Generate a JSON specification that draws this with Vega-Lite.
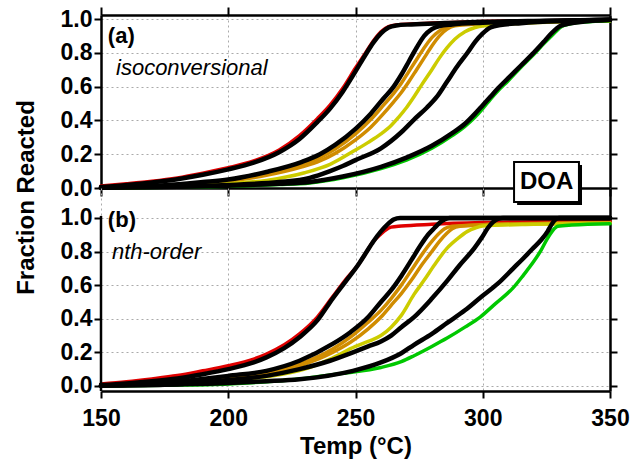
{
  "$schema": "https://vega.github.io/schema/vega-lite/v6.json",
  "padding": {"left": 13, "top": 6, "right": 5, "bottom": 5},
  "background": "white",
  "config": {
    "view": {"stroke": null},
    "font": "Liberation Sans",
    "axis": {
      "zindex": 0,
      "domainColor": "black", "domainWidth": 2.5,
      "tickColor": "black", "tickWidth": 2,
      "labelFont": "Liberation Sans", "labelFontWeight": "bold", "labelFontSize": 23, "labelColor": "black",
      "titleFont": "Liberation Sans", "titleFontWeight": "bold", "titleFontSize": 24, "titleColor": "black",
      "gridColor": "#aaaaaa", "gridDash": [2, 3], "gridWidth": 1,
      "labelFlush": false, "labelOverlap": false, "labelBound": false
    }
  },
  "datasets": {
    "curves": [
      {"p":"a","s":"red","T":150,"f":0.012},{"p":"a","s":"red","T":160,"f":0.025},{"p":"a","s":"red","T":170,"f":0.04},{"p":"a","s":"red","T":180,"f":0.06},{"p":"a","s":"red","T":190,"f":0.088},{"p":"a","s":"red","T":200,"f":0.12},{"p":"a","s":"red","T":210,"f":0.16},{"p":"a","s":"red","T":220,"f":0.225},{"p":"a","s":"red","T":228,"f":0.31},{"p":"a","s":"red","T":235,"f":0.41},{"p":"a","s":"red","T":240,"f":0.49},{"p":"a","s":"red","T":245,"f":0.59},{"p":"a","s":"red","T":250,"f":0.71},{"p":"a","s":"red","T":254,"f":0.8},{"p":"a","s":"red","T":257,"f":0.87},{"p":"a","s":"red","T":260,"f":0.925},{"p":"a","s":"red","T":263,"f":0.955},{"p":"a","s":"red","T":266,"f":0.965},{"p":"a","s":"red","T":272,"f":0.97},{"p":"a","s":"red","T":285,"f":0.978},{"p":"a","s":"red","T":300,"f":0.985},{"p":"a","s":"red","T":325,"f":0.99},{"p":"a","s":"red","T":350,"f":0.995},

      {"p":"a","s":"f1","T":150,"f":0.006},{"p":"a","s":"f1","T":160,"f":0.018},{"p":"a","s":"f1","T":170,"f":0.033},{"p":"a","s":"f1","T":180,"f":0.052},{"p":"a","s":"f1","T":190,"f":0.078},{"p":"a","s":"f1","T":200,"f":0.11},{"p":"a","s":"f1","T":210,"f":0.15},{"p":"a","s":"f1","T":220,"f":0.212},{"p":"a","s":"f1","T":228,"f":0.29},{"p":"a","s":"f1","T":235,"f":0.39},{"p":"a","s":"f1","T":240,"f":0.47},{"p":"a","s":"f1","T":245,"f":0.57},{"p":"a","s":"f1","T":250,"f":0.69},{"p":"a","s":"f1","T":254,"f":0.79},{"p":"a","s":"f1","T":257,"f":0.86},{"p":"a","s":"f1","T":260,"f":0.915},{"p":"a","s":"f1","T":263,"f":0.95},{"p":"a","s":"f1","T":266,"f":0.962},{"p":"a","s":"f1","T":272,"f":0.968},{"p":"a","s":"f1","T":285,"f":0.976},{"p":"a","s":"f1","T":300,"f":0.984},{"p":"a","s":"f1","T":325,"f":0.99},{"p":"a","s":"f1","T":350,"f":0.995},

      {"p":"a","s":"o1","T":150,"f":0.003},{"p":"a","s":"o1","T":175,"f":0.014},{"p":"a","s":"o1","T":190,"f":0.03},{"p":"a","s":"o1","T":200,"f":0.045},{"p":"a","s":"o1","T":215,"f":0.085},{"p":"a","s":"o1","T":229,"f":0.14},{"p":"a","s":"o1","T":236,"f":0.18},{"p":"a","s":"o1","T":242,"f":0.23},{"p":"a","s":"o1","T":250,"f":0.32},{"p":"a","s":"o1","T":256,"f":0.405},{"p":"a","s":"o1","T":261,"f":0.49},{"p":"a","s":"o1","T":265,"f":0.56},{"p":"a","s":"o1","T":268,"f":0.62},{"p":"a","s":"o1","T":271,"f":0.69},{"p":"a","s":"o1","T":274,"f":0.76},{"p":"a","s":"o1","T":277,"f":0.83},{"p":"a","s":"o1","T":280,"f":0.89},{"p":"a","s":"o1","T":283,"f":0.93},{"p":"a","s":"o1","T":286,"f":0.955},{"p":"a","s":"o1","T":290,"f":0.965},{"p":"a","s":"o1","T":300,"f":0.975},{"p":"a","s":"o1","T":350,"f":0.99},

      {"p":"a","s":"o2","T":150,"f":0.002},{"p":"a","s":"o2","T":175,"f":0.012},{"p":"a","s":"o2","T":190,"f":0.026},{"p":"a","s":"o2","T":200,"f":0.04},{"p":"a","s":"o2","T":215,"f":0.075},{"p":"a","s":"o2","T":229,"f":0.125},{"p":"a","s":"o2","T":236,"f":0.16},{"p":"a","s":"o2","T":242,"f":0.205},{"p":"a","s":"o2","T":250,"f":0.285},{"p":"a","s":"o2","T":256,"f":0.36},{"p":"a","s":"o2","T":261,"f":0.44},{"p":"a","s":"o2","T":265,"f":0.51},{"p":"a","s":"o2","T":268,"f":0.565},{"p":"a","s":"o2","T":271,"f":0.63},{"p":"a","s":"o2","T":274,"f":0.7},{"p":"a","s":"o2","T":277,"f":0.77},{"p":"a","s":"o2","T":280,"f":0.84},{"p":"a","s":"o2","T":283,"f":0.9},{"p":"a","s":"o2","T":286,"f":0.94},{"p":"a","s":"o2","T":289,"f":0.96},{"p":"a","s":"o2","T":295,"f":0.968},{"p":"a","s":"o2","T":310,"f":0.978},{"p":"a","s":"o2","T":350,"f":0.99},

      {"p":"a","s":"f2","T":150,"f":0.003},{"p":"a","s":"f2","T":160,"f":0.008},{"p":"a","s":"f2","T":175,"f":0.016},{"p":"a","s":"f2","T":190,"f":0.035},{"p":"a","s":"f2","T":200,"f":0.05},{"p":"a","s":"f2","T":215,"f":0.095},{"p":"a","s":"f2","T":229,"f":0.155},{"p":"a","s":"f2","T":236,"f":0.2},{"p":"a","s":"f2","T":242,"f":0.255},{"p":"a","s":"f2","T":250,"f":0.35},{"p":"a","s":"f2","T":256,"f":0.44},{"p":"a","s":"f2","T":261,"f":0.53},{"p":"a","s":"f2","T":265,"f":0.6},{"p":"a","s":"f2","T":268,"f":0.67},{"p":"a","s":"f2","T":271,"f":0.75},{"p":"a","s":"f2","T":274,"f":0.83},{"p":"a","s":"f2","T":277,"f":0.9},{"p":"a","s":"f2","T":280,"f":0.94},{"p":"a","s":"f2","T":283,"f":0.958},{"p":"a","s":"f2","T":288,"f":0.968},{"p":"a","s":"f2","T":300,"f":0.978},{"p":"a","s":"f2","T":325,"f":0.988},{"p":"a","s":"f2","T":350,"f":0.995},

      {"p":"a","s":"yellow","T":150,"f":0.002},{"p":"a","s":"yellow","T":175,"f":0.008},{"p":"a","s":"yellow","T":200,"f":0.025},{"p":"a","s":"yellow","T":215,"f":0.045},{"p":"a","s":"yellow","T":230,"f":0.09},{"p":"a","s":"yellow","T":240,"f":0.14},{"p":"a","s":"yellow","T":250,"f":0.225},{"p":"a","s":"yellow","T":255,"f":0.27},{"p":"a","s":"yellow","T":260,"f":0.32},{"p":"a","s":"yellow","T":264,"f":0.37},{"p":"a","s":"yellow","T":267,"f":0.42},{"p":"a","s":"yellow","T":270,"f":0.475},{"p":"a","s":"yellow","T":273,"f":0.54},{"p":"a","s":"yellow","T":276,"f":0.61},{"p":"a","s":"yellow","T":280,"f":0.7},{"p":"a","s":"yellow","T":283,"f":0.77},{"p":"a","s":"yellow","T":286,"f":0.83},{"p":"a","s":"yellow","T":289,"f":0.88},{"p":"a","s":"yellow","T":293,"f":0.925},{"p":"a","s":"yellow","T":297,"f":0.95},{"p":"a","s":"yellow","T":302,"f":0.962},{"p":"a","s":"yellow","T":315,"f":0.975},{"p":"a","s":"yellow","T":350,"f":0.99},

      {"p":"a","s":"f3","T":150,"f":0.002},{"p":"a","s":"f3","T":175,"f":0.007},{"p":"a","s":"f3","T":200,"f":0.018},{"p":"a","s":"f3","T":220,"f":0.035},{"p":"a","s":"f3","T":232,"f":0.06},{"p":"a","s":"f3","T":240,"f":0.1},{"p":"a","s":"f3","T":245,"f":0.13},{"p":"a","s":"f3","T":250,"f":0.165},{"p":"a","s":"f3","T":260,"f":0.235},{"p":"a","s":"f3","T":268,"f":0.33},{"p":"a","s":"f3","T":273,"f":0.405},{"p":"a","s":"f3","T":278,"f":0.475},{"p":"a","s":"f3","T":282,"f":0.54},{"p":"a","s":"f3","T":286,"f":0.63},{"p":"a","s":"f3","T":290,"f":0.72},{"p":"a","s":"f3","T":294,"f":0.8},{"p":"a","s":"f3","T":297,"f":0.865},{"p":"a","s":"f3","T":300,"f":0.915},{"p":"a","s":"f3","T":303,"f":0.95},{"p":"a","s":"f3","T":307,"f":0.965},{"p":"a","s":"f3","T":315,"f":0.975},{"p":"a","s":"f3","T":350,"f":0.995},

      {"p":"a","s":"green","T":150,"f":0},{"p":"a","s":"green","T":175,"f":0.004},{"p":"a","s":"green","T":200,"f":0.01},{"p":"a","s":"green","T":220,"f":0.02},{"p":"a","s":"green","T":232,"f":0.03},{"p":"a","s":"green","T":245,"f":0.06},{"p":"a","s":"green","T":260,"f":0.115},{"p":"a","s":"green","T":270,"f":0.165},{"p":"a","s":"green","T":280,"f":0.235},{"p":"a","s":"green","T":288,"f":0.31},{"p":"a","s":"green","T":293,"f":0.365},{"p":"a","s":"green","T":297,"f":0.42},{"p":"a","s":"green","T":300,"f":0.47},{"p":"a","s":"green","T":303,"f":0.525},{"p":"a","s":"green","T":306,"f":0.575},{"p":"a","s":"green","T":310,"f":0.635},{"p":"a","s":"green","T":315,"f":0.715},{"p":"a","s":"green","T":320,"f":0.79},{"p":"a","s":"green","T":324,"f":0.855},{"p":"a","s":"green","T":327,"f":0.9},{"p":"a","s":"green","T":329,"f":0.93},{"p":"a","s":"green","T":331,"f":0.955},{"p":"a","s":"green","T":334,"f":0.97},{"p":"a","s":"green","T":340,"f":0.982},{"p":"a","s":"green","T":350,"f":0.99},

      {"p":"a","s":"f4","T":150,"f":0.002},{"p":"a","s":"f4","T":175,"f":0.006},{"p":"a","s":"f4","T":200,"f":0.014},{"p":"a","s":"f4","T":220,"f":0.025},{"p":"a","s":"f4","T":232,"f":0.036},{"p":"a","s":"f4","T":245,"f":0.068},{"p":"a","s":"f4","T":260,"f":0.125},{"p":"a","s":"f4","T":270,"f":0.18},{"p":"a","s":"f4","T":280,"f":0.25},{"p":"a","s":"f4","T":288,"f":0.325},{"p":"a","s":"f4","T":293,"f":0.38},{"p":"a","s":"f4","T":297,"f":0.44},{"p":"a","s":"f4","T":300,"f":0.49},{"p":"a","s":"f4","T":303,"f":0.54},{"p":"a","s":"f4","T":306,"f":0.59},{"p":"a","s":"f4","T":310,"f":0.65},{"p":"a","s":"f4","T":315,"f":0.725},{"p":"a","s":"f4","T":320,"f":0.8},{"p":"a","s":"f4","T":324,"f":0.865},{"p":"a","s":"f4","T":326,"f":0.9},{"p":"a","s":"f4","T":328,"f":0.93},{"p":"a","s":"f4","T":330,"f":0.955},{"p":"a","s":"f4","T":333,"f":0.97},{"p":"a","s":"f4","T":340,"f":0.985},{"p":"a","s":"f4","T":350,"f":0.995},

      {"p":"b","s":"red","T":150,"f":0.012},{"p":"b","s":"red","T":160,"f":0.025},{"p":"b","s":"red","T":170,"f":0.042},{"p":"b","s":"red","T":180,"f":0.062},{"p":"b","s":"red","T":190,"f":0.09},{"p":"b","s":"red","T":200,"f":0.12},{"p":"b","s":"red","T":210,"f":0.16},{"p":"b","s":"red","T":215,"f":0.19},{"p":"b","s":"red","T":222,"f":0.245},{"p":"b","s":"red","T":228,"f":0.31},{"p":"b","s":"red","T":235,"f":0.41},{"p":"b","s":"red","T":241,"f":0.53},{"p":"b","s":"red","T":246,"f":0.63},{"p":"b","s":"red","T":251,"f":0.72},{"p":"b","s":"red","T":254,"f":0.79},{"p":"b","s":"red","T":257,"f":0.86},{"p":"b","s":"red","T":260,"f":0.905},{"p":"b","s":"red","T":262,"f":0.93},{"p":"b","s":"red","T":264,"f":0.945},{"p":"b","s":"red","T":268,"f":0.952},{"p":"b","s":"red","T":280,"f":0.962},{"p":"b","s":"red","T":300,"f":0.972},{"p":"b","s":"red","T":325,"f":0.978},{"p":"b","s":"red","T":350,"f":0.982},

      {"p":"b","s":"f1","T":150,"f":0.005},{"p":"b","s":"f1","T":160,"f":0.015},{"p":"b","s":"f1","T":170,"f":0.028},{"p":"b","s":"f1","T":180,"f":0.045},{"p":"b","s":"f1","T":190,"f":0.07},{"p":"b","s":"f1","T":200,"f":0.1},{"p":"b","s":"f1","T":210,"f":0.14},{"p":"b","s":"f1","T":215,"f":0.17},{"p":"b","s":"f1","T":222,"f":0.225},{"p":"b","s":"f1","T":228,"f":0.29},{"p":"b","s":"f1","T":235,"f":0.39},{"p":"b","s":"f1","T":241,"f":0.52},{"p":"b","s":"f1","T":246,"f":0.62},{"p":"b","s":"f1","T":251,"f":0.72},{"p":"b","s":"f1","T":254,"f":0.79},{"p":"b","s":"f1","T":257,"f":0.86},{"p":"b","s":"f1","T":260,"f":0.92},{"p":"b","s":"f1","T":262.5,"f":0.96},{"p":"b","s":"f1","T":265,"f":0.99},{"p":"b","s":"f1","T":267.5,"f":1},{"p":"b","s":"f1","T":300,"f":1},{"p":"b","s":"f1","T":350,"f":1},

      {"p":"b","s":"o1","T":150,"f":0.002},{"p":"b","s":"o1","T":180,"f":0.02},{"p":"b","s":"o1","T":200,"f":0.05},{"p":"b","s":"o1","T":215,"f":0.08},{"p":"b","s":"o1","T":228,"f":0.13},{"p":"b","s":"o1","T":241,"f":0.22},{"p":"b","s":"o1","T":248,"f":0.29},{"p":"b","s":"o1","T":255,"f":0.38},{"p":"b","s":"o1","T":260,"f":0.45},{"p":"b","s":"o1","T":264,"f":0.52},{"p":"b","s":"o1","T":268,"f":0.6},{"p":"b","s":"o1","T":272,"f":0.69},{"p":"b","s":"o1","T":276,"f":0.78},{"p":"b","s":"o1","T":280,"f":0.86},{"p":"b","s":"o1","T":283,"f":0.91},{"p":"b","s":"o1","T":285,"f":0.935},{"p":"b","s":"o1","T":288,"f":0.95},{"p":"b","s":"o1","T":300,"f":0.96},{"p":"b","s":"o1","T":325,"f":0.968},{"p":"b","s":"o1","T":350,"f":0.972},

      {"p":"b","s":"o2","T":150,"f":0.002},{"p":"b","s":"o2","T":180,"f":0.018},{"p":"b","s":"o2","T":200,"f":0.045},{"p":"b","s":"o2","T":215,"f":0.072},{"p":"b","s":"o2","T":228,"f":0.12},{"p":"b","s":"o2","T":241,"f":0.2},{"p":"b","s":"o2","T":248,"f":0.26},{"p":"b","s":"o2","T":255,"f":0.34},{"p":"b","s":"o2","T":260,"f":0.41},{"p":"b","s":"o2","T":264,"f":0.48},{"p":"b","s":"o2","T":268,"f":0.55},{"p":"b","s":"o2","T":272,"f":0.63},{"p":"b","s":"o2","T":276,"f":0.72},{"p":"b","s":"o2","T":280,"f":0.8},{"p":"b","s":"o2","T":283,"f":0.86},{"p":"b","s":"o2","T":286,"f":0.91},{"p":"b","s":"o2","T":288,"f":0.935},{"p":"b","s":"o2","T":291,"f":0.95},{"p":"b","s":"o2","T":300,"f":0.958},{"p":"b","s":"o2","T":325,"f":0.966},{"p":"b","s":"o2","T":350,"f":0.97},

      {"p":"b","s":"f2","T":150,"f":0.002},{"p":"b","s":"f2","T":165,"f":0.01},{"p":"b","s":"f2","T":180,"f":0.025},{"p":"b","s":"f2","T":189,"f":0.04},{"p":"b","s":"f2","T":200,"f":0.06},{"p":"b","s":"f2","T":215,"f":0.09},{"p":"b","s":"f2","T":228,"f":0.15},{"p":"b","s":"f2","T":241,"f":0.25},{"p":"b","s":"f2","T":248,"f":0.32},{"p":"b","s":"f2","T":255,"f":0.41},{"p":"b","s":"f2","T":260,"f":0.5},{"p":"b","s":"f2","T":264,"f":0.57},{"p":"b","s":"f2","T":268,"f":0.655},{"p":"b","s":"f2","T":272,"f":0.75},{"p":"b","s":"f2","T":275.7,"f":0.84},{"p":"b","s":"f2","T":278.5,"f":0.9},{"p":"b","s":"f2","T":281,"f":0.94},{"p":"b","s":"f2","T":283,"f":0.97},{"p":"b","s":"f2","T":285,"f":0.99},{"p":"b","s":"f2","T":287,"f":1},{"p":"b","s":"f2","T":350,"f":1},

      {"p":"b","s":"yellow","T":150,"f":0.002},{"p":"b","s":"yellow","T":175,"f":0.01},{"p":"b","s":"yellow","T":200,"f":0.03},{"p":"b","s":"yellow","T":215,"f":0.055},{"p":"b","s":"yellow","T":230,"f":0.1},{"p":"b","s":"yellow","T":240,"f":0.16},{"p":"b","s":"yellow","T":250,"f":0.235},{"p":"b","s":"yellow","T":255,"f":0.265},{"p":"b","s":"yellow","T":260,"f":0.3},{"p":"b","s":"yellow","T":264,"f":0.35},{"p":"b","s":"yellow","T":268,"f":0.42},{"p":"b","s":"yellow","T":273,"f":0.545},{"p":"b","s":"yellow","T":277,"f":0.63},{"p":"b","s":"yellow","T":281,"f":0.72},{"p":"b","s":"yellow","T":286,"f":0.82},{"p":"b","s":"yellow","T":290,"f":0.875},{"p":"b","s":"yellow","T":294,"f":0.92},{"p":"b","s":"yellow","T":297,"f":0.94},{"p":"b","s":"yellow","T":300,"f":0.952},{"p":"b","s":"yellow","T":320,"f":0.962},{"p":"b","s":"yellow","T":350,"f":0.968},

      {"p":"b","s":"f3","T":150,"f":0.002},{"p":"b","s":"f3","T":175,"f":0.007},{"p":"b","s":"f3","T":189,"f":0.02},{"p":"b","s":"f3","T":200,"f":0.035},{"p":"b","s":"f3","T":215,"f":0.06},{"p":"b","s":"f3","T":228,"f":0.1},{"p":"b","s":"f3","T":240,"f":0.15},{"p":"b","s":"f3","T":249,"f":0.2},{"p":"b","s":"f3","T":255,"f":0.235},{"p":"b","s":"f3","T":260,"f":0.265},{"p":"b","s":"f3","T":264,"f":0.3},{"p":"b","s":"f3","T":268,"f":0.35},{"p":"b","s":"f3","T":273,"f":0.41},{"p":"b","s":"f3","T":280,"f":0.52},{"p":"b","s":"f3","T":286,"f":0.625},{"p":"b","s":"f3","T":291,"f":0.72},{"p":"b","s":"f3","T":296.7,"f":0.82},{"p":"b","s":"f3","T":299.5,"f":0.88},{"p":"b","s":"f3","T":302,"f":0.94},{"p":"b","s":"f3","T":304,"f":0.975},{"p":"b","s":"f3","T":306,"f":0.995},{"p":"b","s":"f3","T":308,"f":1},{"p":"b","s":"f3","T":350,"f":1},

      {"p":"b","s":"green","T":150,"f":0},{"p":"b","s":"green","T":175,"f":0.004},{"p":"b","s":"green","T":200,"f":0.012},{"p":"b","s":"green","T":215,"f":0.025},{"p":"b","s":"green","T":230,"f":0.045},{"p":"b","s":"green","T":245,"f":0.075},{"p":"b","s":"green","T":260,"f":0.11},{"p":"b","s":"green","T":268,"f":0.145},{"p":"b","s":"green","T":273,"f":0.18},{"p":"b","s":"green","T":280,"f":0.235},{"p":"b","s":"green","T":286,"f":0.285},{"p":"b","s":"green","T":293,"f":0.35},{"p":"b","s":"green","T":299,"f":0.41},{"p":"b","s":"green","T":305,"f":0.49},{"p":"b","s":"green","T":312,"f":0.585},{"p":"b","s":"green","T":316,"f":0.66},{"p":"b","s":"green","T":320,"f":0.74},{"p":"b","s":"green","T":323,"f":0.81},{"p":"b","s":"green","T":325.5,"f":0.88},{"p":"b","s":"green","T":327.5,"f":0.925},{"p":"b","s":"green","T":329.5,"f":0.95},{"p":"b","s":"green","T":335,"f":0.958},{"p":"b","s":"green","T":350,"f":0.966},

      {"p":"b","s":"f4","T":150,"f":0.003},{"p":"b","s":"f4","T":175,"f":0.008},{"p":"b","s":"f4","T":200,"f":0.018},{"p":"b","s":"f4","T":215,"f":0.028},{"p":"b","s":"f4","T":228,"f":0.04},{"p":"b","s":"f4","T":249,"f":0.09},{"p":"b","s":"f4","T":260,"f":0.14},{"p":"b","s":"f4","T":268,"f":0.195},{"p":"b","s":"f4","T":273,"f":0.245},{"p":"b","s":"f4","T":280,"f":0.31},{"p":"b","s":"f4","T":286,"f":0.375},{"p":"b","s":"f4","T":293,"f":0.45},{"p":"b","s":"f4","T":299,"f":0.525},{"p":"b","s":"f4","T":306,"f":0.61},{"p":"b","s":"f4","T":312,"f":0.7},{"p":"b","s":"f4","T":316,"f":0.76},{"p":"b","s":"f4","T":320,"f":0.823},{"p":"b","s":"f4","T":323,"f":0.87},{"p":"b","s":"f4","T":325.5,"f":0.92},{"p":"b","s":"f4","T":327,"f":0.96},{"p":"b","s":"f4","T":328.5,"f":0.99},{"p":"b","s":"f4","T":330,"f":1},{"p":"b","s":"f4","T":350,"f":1}
    ]
  },
  "vconcat": [
    {
      "width": 509,
      "height": 173,
      "data": {"name": "curves"},
      "transform": [{"filter": "datum.p === 'a'"}],
      "layer": [
        {
          "transform": [{"filter": {"field": "s", "oneOf": ["green", "yellow", "o2", "o1", "red"]}}],
          "mark": {"type": "line", "interpolate": "monotone", "strokeCap": "round"},
          "encoding": {
            "x": {"field": "T", "type": "quantitative", "scale": {"domain": [150, 350], "nice": false, "zero": false},
                  "axis": {"orient": "bottom", "values": [150, 200, 250, 300, 350], "labels": false, "tickSize": 8, "grid": true, "title": null}},
            "y": {"field": "f", "type": "quantitative", "scale": {"domain": [0, 1.0237], "nice": false, "zero": false},
                  "axis": {"orient": "left", "values": [0, 0.2, 0.4, 0.6, 0.8, 1.0], "format": ".1f", "tickSize": 7, "labelPadding": 2, "grid": true, "title": null}},
            "color": {"field": "s", "type": "nominal", "legend": null,
                      "scale": {"domain": ["red", "o1", "o2", "yellow", "green"], "range": ["#E00000", "#D08C00", "#D08C00", "#CCCC00", "#00C800"]}},
            "strokeWidth": {"field": "s", "type": "nominal", "legend": null,
                      "scale": {"domain": ["red", "o1", "o2", "yellow", "green"], "range": [3.5, 3.5, 3.5, 6, 4.5]}},
            "order": {"field": "T", "type": "quantitative"}
          }
        },
        {
          "transform": [{"filter": {"field": "s", "oneOf": ["f1", "f2", "f3", "f4"]}}],
          "mark": {"type": "line", "interpolate": "monotone", "color": "black", "strokeWidth": 4.5, "strokeCap": "round"},
          "encoding": {
            "x": {"field": "T", "type": "quantitative",
                  "axis": {"orient": "top", "values": [150, 200, 250, 300, 350], "labels": false, "tickSize": 8, "grid": false, "title": null}},
            "y": {"field": "f", "type": "quantitative",
                  "axis": {"orient": "right", "values": [0, 0.2, 0.4, 0.6, 0.8, 1.0], "labels": false, "tickSize": 7, "grid": false, "title": null}},
            "detail": {"field": "s"},
            "order": {"field": "T", "type": "quantitative"}
          }
        },
        {
          "data": {"values": [{}]},
          "mark": {"type": "text", "font": "Liberation Sans", "fontWeight": "bold", "fontSize": 22, "align": "left", "baseline": "middle", "color": "black"},
          "encoding": {
            "x": {"datum": 152.7, "type": "quantitative", "axis": null},
            "y": {"datum": 0.9, "type": "quantitative", "axis": null},
            "text": {"value": "(a)"}
          }
        },
        {
          "data": {"values": [{}]},
          "mark": {"type": "text", "font": "Liberation Sans", "fontStyle": "italic", "fontSize": 22, "align": "left", "baseline": "middle", "color": "black"},
          "encoding": {
            "x": {"datum": 155.9, "type": "quantitative", "axis": null},
            "y": {"datum": 0.71, "type": "quantitative", "axis": null},
            "text": {"value": "isoconversional"}
          }
        },
        {
          "data": {"values": [{}]},
          "mark": {"type": "rect", "color": "black"},
          "encoding": {
            "x": {"datum": 313.5, "type": "quantitative", "axis": null},
            "x2": {"datum": 339.0},
            "y": {"datum": -0.101, "type": "quantitative", "axis": null},
            "y2": {"datum": 0.136}
          }
        },
        {
          "data": {"values": [{}]},
          "mark": {"type": "rect", "fill": "white", "stroke": "black", "strokeWidth": 2},
          "encoding": {
            "x": {"datum": 312.3, "type": "quantitative", "axis": null},
            "x2": {"datum": 337.8},
            "y": {"datum": -0.083, "type": "quantitative", "axis": null},
            "y2": {"datum": 0.154}
          }
        },
        {
          "data": {"values": [{}]},
          "mark": {"type": "text", "font": "Liberation Sans", "fontWeight": "bold", "fontSize": 24, "align": "center", "baseline": "middle", "color": "black"},
          "encoding": {
            "x": {"datum": 325.1, "type": "quantitative", "axis": null},
            "y": {"datum": 0.036, "type": "quantitative", "axis": null},
            "text": {"value": "DOA"}
          }
        }
      ],
      "resolve": {"axis": {"x": "independent", "y": "independent"}}
    },
    {
      "width": 509,
      "height": 203,
      "data": {"name": "curves"},
      "transform": [{"filter": "datum.p === 'b'"}],
      "layer": [
        {
          "transform": [{"filter": {"field": "s", "oneOf": ["green", "yellow", "o2", "o1", "red"]}}],
          "mark": {"type": "line", "interpolate": "monotone", "strokeCap": "round"},
          "encoding": {
            "x": {"field": "T", "type": "quantitative", "scale": {"domain": [150, 350], "nice": false, "zero": false},
                  "axis": {"orient": "bottom", "values": [150, 200, 250, 300, 350], "tickSize": 7, "labelPadding": 9, "grid": true,
                           "title": "Temp (°C)", "titleY": 62, "titleBaseline": "alphabetic"}},
            "y": {"field": "f", "type": "quantitative", "scale": {"domain": [-0.03, 1.178], "nice": false, "zero": false},
                  "axis": {"orient": "left", "values": [0, 0.2, 0.4, 0.6, 0.8, 1.0], "format": ".1f", "tickSize": 7, "labelPadding": 2, "grid": true, "domain": false,
                           "title": "Fraction Reacted", "titleAngle": 270, "titleX": -68, "titleY": 9, "titleBaseline": "alphabetic", "titleAlign": "center"}},
            "color": {"field": "s", "type": "nominal", "legend": null,
                      "scale": {"domain": ["red", "o1", "o2", "yellow", "green"], "range": ["#E00000", "#D08C00", "#D08C00", "#CCCC00", "#00C800"]}},
            "strokeWidth": {"field": "s", "type": "nominal", "legend": null,
                      "scale": {"domain": ["red", "o1", "o2", "yellow", "green"], "range": [3.5, 3.5, 3.5, 6, 4.5]}},
            "order": {"field": "T", "type": "quantitative"}
          }
        },
        {
          "transform": [{"filter": {"field": "s", "oneOf": ["f1", "f2", "f3", "f4"]}}],
          "mark": {"type": "line", "interpolate": "monotone", "color": "black", "strokeWidth": 4.5, "strokeCap": "round"},
          "encoding": {
            "x": {"field": "T", "type": "quantitative", "axis": null},
            "y": {"field": "f", "type": "quantitative",
                  "axis": {"orient": "right", "values": [0, 0.2, 0.4, 0.6, 0.8, 1.0], "labels": false, "tickSize": 7, "grid": false, "title": null}},
            "detail": {"field": "s"},
            "order": {"field": "T", "type": "quantitative"}
          }
        },
        {
          "data": {"values": [{}]},
          "mark": {"type": "rule", "color": "black", "strokeWidth": 2.5},
          "encoding": {
            "x": {"datum": 150, "type": "quantitative", "axis": null},
            "y": {"datum": -0.03, "type": "quantitative", "axis": null},
            "y2": {"datum": 1.012}
          }
        },
        {
          "data": {"values": [{}]},
          "mark": {"type": "text", "font": "Liberation Sans", "fontWeight": "bold", "fontSize": 22, "align": "left", "baseline": "middle", "color": "black"},
          "encoding": {
            "x": {"datum": 152.7, "type": "quantitative", "axis": null},
            "y": {"datum": 0.988, "type": "quantitative", "axis": null},
            "text": {"value": "(b)"}
          }
        },
        {
          "data": {"values": [{}]},
          "mark": {"type": "text", "font": "Liberation Sans", "fontStyle": "italic", "fontSize": 22, "align": "left", "baseline": "middle", "color": "black"},
          "encoding": {
            "x": {"datum": 154.3, "type": "quantitative", "axis": null},
            "y": {"datum": 0.798, "type": "quantitative", "axis": null},
            "text": {"value": "nth-order"}
          }
        }
      ],
      "resolve": {"axis": {"x": "independent", "y": "independent"}}
    }
  ],
  "spacing": 0,
  "bounds": "flush"
}
